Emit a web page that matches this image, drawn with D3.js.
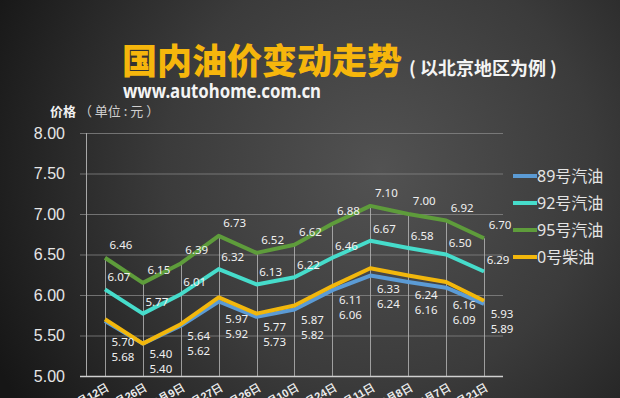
<!DOCTYPE html>
<html>
<head>
<meta charset="utf-8">
<script src="https://cdn.jsdelivr.net/npm/d3@7"></script>
<style>
  body { margin: 0; background: #1c1c1c; }
  svg { display: block; font-family: "Noto Sans", "Noto Sans CJK SC", sans-serif; }
</style>
</head>
<body>
<div id="chart"></div>
<script>
// data
var dates = ['1月12日', '1月26日', '2月9日', '2月27日', '3月26日', '4月10日',
             '4月24日', '5月11日', '6月8日', '7月7日', '7月21日'];
var gas89 = [5.68, 5.40, 5.62, 5.92, 5.73, 5.82, 6.06, 6.24, 6.16, 6.09, 5.89];
var gas92 = [6.07, 5.77, 6.01, 6.32, 6.13, 6.22, 6.46, 6.67, 6.58, 6.50, 6.29];
var gas95 = [6.46, 6.15, 6.39, 6.73, 6.52, 6.62, 6.88, 7.10, 7.00, 6.92, 6.70];
var diesel0 = [5.70, 5.40, 5.64, 5.97, 5.77, 5.87, 6.11, 6.33, 6.24, 6.16, 5.93];
var seriesNames = ['89号汽油', '92号汽油', '95号汽油', '0号柴油'];
var yTicks = [5.0, 5.5, 6.0, 6.5, 7.0, 7.5, 8.0];

var width = 620;
var height = 398;
var plot = {left: 86, right: 503, top: 133, bottom: 376};
var colors = ['#5b9bd5', '#46dccb', '#5e9c3b', '#f2b70c'];

var series = [gas89, gas92, gas95, diesel0].map(function(vals, i) {
  return {name: seriesNames[i], color: colors[i], values: vals};
});

var svg = d3.select('#chart')
  .append('svg')
  .attr('width', width)
  .attr('height', height);

// background
var grad = svg.append('defs').append('radialGradient')
  .attr('id', 'bg')
  .attr('gradientUnits', 'userSpaceOnUse')
  .attr('cx', 380).attr('cy', 170).attr('r', 430);
grad.append('stop').attr('offset', 0).attr('stop-color', '#525252');
grad.append('stop').attr('offset', 0.5).attr('stop-color', '#3b3b3b');
grad.append('stop').attr('offset', 1).attr('stop-color', '#161616');

svg.append('rect')
  .attr('width', width)
  .attr('height', height)
  .attr('fill', 'url(#bg)');

var x = d3.scaleBand()
  .domain(dates)
  .range([plot.left, plot.right])
  .padding(0);
var cx = function(d) { return x(d) + x.bandwidth() / 2; };

var y = d3.scaleLinear()
  .domain([5, 8])
  .range([plot.bottom, plot.top]);

// horizontal grid + y labels (axis hung on the right edge so ticks span the plot)
var yAxis = svg.append('g')
  .attr('transform', 'translate(' + plot.right + ',0)')
  .call(d3.axisLeft(y)
    .tickValues(yTicks)
    .tickSize(plot.right - 80)
    .tickPadding(15)
    .tickFormat(d3.format('.2f')));
yAxis.select('.domain').remove();
yAxis.selectAll('line')
  .attr('stroke', function(d) { return d === 5 ? '#d0d0d0' : '#8a8a8a'; })
  .attr('stroke-width', function(d) { return d === 5 ? 1.5 : 1; })
  .attr('stroke-opacity', function(d) { return d === 5 ? 1 : 0.75; });
yAxis.selectAll('text')
  .attr('fill', '#e6e6e6')
  .style('font-size', '16px');

// y axis line
svg.append('line')
  .attr('x1', plot.left + 0.5).attr('x2', plot.left + 0.5)
  .attr('y1', plot.top).attr('y2', plot.bottom)
  .attr('stroke', '#a8a8a8')
  .attr('stroke-width', 1);

// drop lines from the highest series to the axis
svg.append('g')
  .selectAll('line')
  .data(dates)
  .enter().append('line')
    .attr('x1', function(d) { return Math.round(cx(d)) + 0.5; })
    .attr('x2', function(d) { return Math.round(cx(d)) + 0.5; })
    .attr('y1', function(d, i) { return y(d3.max(series, function(s) { return s.values[i]; })); })
    .attr('y2', plot.bottom)
    .attr('stroke', '#b8b8b8')
    .attr('stroke-opacity', 0.8)
    .attr('stroke-width', 1);

// x labels
var xAxis = svg.append('g')
  .attr('transform', 'translate(0,' + plot.bottom + ')')
  .call(d3.axisBottom(x).tickSize(0));
xAxis.select('.domain').remove();
xAxis.selectAll('text')
  .attr('y', 0)
  .attr('dy', '0.35em')
  .attr('text-anchor', 'end')
  .attr('transform', 'translate(3,10) rotate(-30)')
  .attr('fill', '#ececec')
  .style('font-size', '11px')
  .style('font-weight', 'bold');

// lines
var line = d3.line()
  .x(function(d, i) { return cx(dates[i]); })
  .y(function(d) { return y(d); });

svg.append('g')
  .selectAll('path')
  .data(series)
  .enter().append('path')
    .attr('d', function(s) { return line(s.values); })
    .attr('fill', 'none')
    .attr('stroke', function(s) { return s.color; })
    .attr('stroke-width', 4)
    .attr('stroke-linejoin', 'round');

// value labels
var labels = svg.append('g')
  .style('font-size', '11.5px')
  .attr('fill', '#f0f0f0')
  .attr('text-anchor', 'middle');

function addLabels(vals, fx, fy) {
  labels.selectAll(null)
    .data(vals)
    .enter().append('text')
      .attr('x', function(d, i) { return cx(dates[i]) + fx; })
      .attr('y', function(d, i) { return fy(d, i); })
      .attr('dy', '0.35em')
      .text(function(d) { return d3.format('.2f')(d); });
}

// lowest line position a little right of point i (so labels clear the segment)
function lowY(vals, i, dx) {
  var y0 = y(vals[i]);
  if (i + 1 >= vals.length) return y0;
  var y1 = y(vals[i + 1]);
  return Math.max(y0, y0 + (y1 - y0) * dx / x.bandwidth());
}

addLabels(gas95, 16, function(d) { return y(d) - 13; });
addLabels(gas92, 14, function(d) { return y(d) - 12; });
addLabels(diesel0, 18, function(d, i) { return lowY(gas89, i, 18) + 10; });
addLabels(gas89, 18, function(d, i) { return lowY(gas89, i, 18) + 25; });

// legend
var legend = svg.append('g')
  .selectAll('g')
  .data(series)
  .enter().append('g')
    .attr('transform', function(s, i) { return 'translate(513,' + (176 + i * 27) + ')'; });
legend.append('line')
  .attr('x1', 0).attr('x2', 24)
  .attr('stroke', function(s) { return s.color; })
  .attr('stroke-width', 4);
legend.append('text')
  .attr('x', 24)
  .attr('dy', '0.36em')
  .attr('fill', '#e4e4e4')
  .style('font-size', '16px')
  .text(function(s) { return s.name; });

// titles
svg.append('text')
  .attr('x', 122)
  .attr('y', 74)
  .attr('fill', '#f6b60c')
  .style('font-family', '"Noto Sans CJK SC", sans-serif')
  .style('font-size', '35px')
  .style('font-weight', '900')
  .text('国内油价变动走势');

svg.append('text')
  .attr('x', 409)
  .attr('y', 75)
  .attr('fill', '#f4f4f4')
  .style('font-family', '"Noto Sans CJK SC", sans-serif')
  .style('font-size', '18px')
  .style('font-weight', 'bold')
  .text('( 以北京地区为例 )');

svg.append('text')
  .attr('x', 123)
  .attr('y', 98)
  .attr('fill', '#f4f4f4')
  .attr('textLength', 198)
  .attr('lengthAdjust', 'spacingAndGlyphs')
  .style('font-size', '19px')
  .style('font-weight', 'bold')
  .text('www.autohome.com.cn');

var unit = svg.append('text')
  .attr('x', 50)
  .attr('y', 116)
  .style('font-family', '"Noto Sans CJK SC", sans-serif')
  .style('font-size', '13px');
unit.append('tspan')
  .attr('fill', '#f0f0f0')
  .style('font-weight', 'bold')
  .text('价格');
unit.append('tspan')
  .attr('fill', '#d0d0d0')
  .text(' （ 单位 : 元 ）');
</script>
</body>
</html>
